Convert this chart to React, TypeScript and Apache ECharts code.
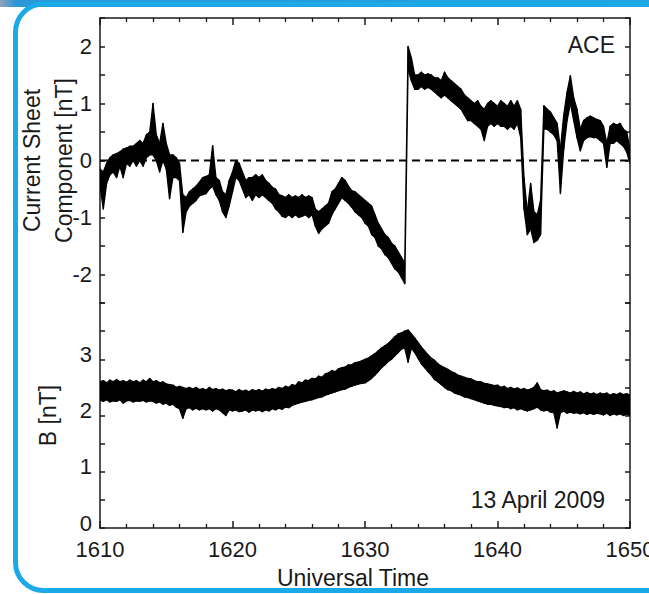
import React, { useEffect, useRef } from "react";
import * as echarts from "echarts";

// sampling grid of the traces (minutes, UT 16:10 -> 16:50)
const startTime = 1610;
const sampleStep = 0.25;

// Current sheet component [nT]: upper / lower edge of the trace at each sample
const csHigh = [
  -0.15, -0.2, -0.05, 0.05,
  0.1, 0.12, 0.15, 0.2,
  0.22, 0.25, 0.25, 0.3,
  0.35, 0.3, 0.45, 0.5,
  1.0, 0.45, 0.3, 0.65,
  0.3, 0.1, 0.1, 0.05,
  -0.05, -0.6, -0.65, -0.55,
  -0.5, -0.45, -0.38, -0.3,
  -0.28, -0.25, 0.26, -0.3,
  -0.35, -0.55, -0.6, -0.35,
  -0.2, 0.0, -0.05, -0.2,
  -0.35, -0.3, -0.3, -0.25,
  -0.3, -0.25, -0.35, -0.4,
  -0.47, -0.5, -0.6, -0.62,
  -0.65, -0.6, -0.65, -0.62,
  -0.65, -0.6, -0.65, -0.62,
  -0.65, -0.85, -0.9, -0.85,
  -0.8, -0.75, -0.55, -0.5,
  -0.4, -0.3, -0.35, -0.45,
  -0.53, -0.55, -0.6, -0.65,
  -0.7, -0.75, -0.8, -0.95,
  -1.1, -1.2, -1.3, -1.35,
  -1.45, -1.5, -1.6, -1.7,
  -1.8, 2.0, 1.8, 1.5,
  1.5, 1.55, 1.5, 1.52,
  1.5, 1.45, 1.45, 1.4,
  1.55, 1.45, 1.4, 1.35,
  1.3, 1.25, 1.15, 1.1,
  1.05, 1.0, 1.05, 0.95,
  0.9, 1.0, 1.05, 1.0,
  0.95, 1.05, 1.0, 0.95,
  1.05, 0.95, 1.05, 0.9,
  -0.3, -0.9, -0.4, -0.9,
  -0.95, -0.7, 0.96, 0.9,
  0.85, 0.75, 0.65, 0.2,
  0.8, 1.2, 1.49, 1.1,
  0.9, 0.55, 0.7, 0.75,
  0.78, 0.75, 0.72, 0.7,
  0.6, 0.3, 0.6, 0.65,
  0.62, 0.65, 0.55, 0.5,
  0.2,
];
const csLow = [
  -0.45, -0.85, -0.4, -0.25,
  -0.2, -0.3, -0.1, -0.3,
  -0.05, -0.1, 0.0, -0.1,
  0.0, -0.1, 0.05, 0.1,
  0.1, 0.0, -0.2, 0.0,
  -0.15, -0.67, -0.3, -0.3,
  -0.35, -1.26, -0.9, -0.8,
  -0.75, -0.7, -0.62, -0.6,
  -0.58, -0.5, -0.45, -0.6,
  -0.7, -0.9, -1.0, -0.8,
  -0.55, -0.3, -0.35, -0.5,
  -0.65, -0.6, -0.7, -0.6,
  -0.65, -0.6, -0.65, -0.7,
  -0.75, -0.85, -0.9, -0.98,
  -1.0, -0.95, -1.0, -0.95,
  -1.0, -0.98, -0.95, -1.0,
  -0.95, -1.15, -1.28, -1.2,
  -1.15, -1.1, -0.95, -0.85,
  -0.75, -0.65, -0.7, -0.75,
  -0.82, -0.9, -0.95, -1.0,
  -1.1, -1.15, -1.3, -1.35,
  -1.5, -1.55, -1.65, -1.7,
  -1.8, -1.9, -1.95, -2.05,
  -2.16, 1.6, 1.4, 1.25,
  1.25, 1.3, 1.25, 1.28,
  1.25, 1.2, 1.15, 1.1,
  1.15, 1.1, 1.05, 1.0,
  0.95, 0.9, 0.8, 0.7,
  0.7, 0.65, 0.6, 0.55,
  0.35, 0.6, 0.65, 0.6,
  0.65, 0.6, 0.6, 0.55,
  0.6, 0.55, 0.65, 0.4,
  -0.85, -1.3, -1.2, -1.44,
  -1.4, -1.3, 0.55, 0.55,
  0.5, 0.45, 0.35, -0.58,
  0.2, 0.7, 1.0, 0.7,
  0.4, 0.17, 0.35, 0.4,
  0.42, 0.4, 0.4, 0.35,
  0.3, -0.12, 0.3, 0.3,
  0.35, 0.3, 0.25, 0.15,
  -0.05,
];

// Magnetic field magnitude B [nT]: upper / lower edge of the trace at each sample
const bHigh = [
  2.6, 2.62, 2.58, 2.63,
  2.6, 2.64, 2.6, 2.62,
  2.59, 2.63, 2.6, 2.62,
  2.58, 2.63, 2.6, 2.66,
  2.6, 2.62, 2.58, 2.6,
  2.56, 2.55, 2.54, 2.5,
  2.52, 2.5, 2.48, 2.5,
  2.47, 2.5, 2.46, 2.48,
  2.45, 2.5, 2.46, 2.48,
  2.45, 2.47, 2.44, 2.46,
  2.45, 2.42, 2.46, 2.43,
  2.45, 2.42, 2.46, 2.44,
  2.46, 2.43, 2.47, 2.45,
  2.48, 2.46, 2.5, 2.48,
  2.52, 2.5, 2.55, 2.53,
  2.6, 2.58, 2.63, 2.62,
  2.66, 2.65, 2.7, 2.68,
  2.74, 2.76, 2.8, 2.78,
  2.83, 2.85, 2.86, 2.9,
  2.9, 2.94, 2.95, 2.97,
  3.0, 3.02, 3.06, 3.1,
  3.15, 3.2, 3.24, 3.28,
  3.34, 3.4, 3.45, 3.47,
  3.5, 3.52, 3.45, 3.38,
  3.3, 3.22, 3.15, 3.08,
  3.02, 2.98, 2.92, 2.88,
  2.85, 2.82, 2.78, 2.76,
  2.72, 2.7, 2.68, 2.66,
  2.65, 2.62, 2.6, 2.6,
  2.57, 2.56, 2.55, 2.53,
  2.54, 2.5, 2.52, 2.48,
  2.5, 2.47, 2.49, 2.46,
  2.48, 2.45, 2.47, 2.5,
  2.58, 2.46, 2.44, 2.45,
  2.42, 2.44, 2.4, 2.42,
  2.44, 2.42, 2.4, 2.43,
  2.4, 2.42, 2.38, 2.41,
  2.38, 2.4, 2.37, 2.4,
  2.38, 2.4, 2.36, 2.39,
  2.37, 2.4, 2.37, 2.39,
  2.36,
];
const bLow = [
  2.27, 2.25, 2.28, 2.24,
  2.26, 2.25, 2.28, 2.22,
  2.26, 2.27, 2.24, 2.26,
  2.25, 2.27, 2.24, 2.26,
  2.25, 2.22, 2.24, 2.2,
  2.22, 2.18, 2.2, 2.15,
  2.12, 1.95, 2.12, 2.14,
  2.1, 2.13, 2.1, 2.12,
  2.1, 2.12, 2.08, 2.12,
  2.1, 2.05, 2.0, 2.1,
  2.08, 2.1, 2.07, 2.08,
  2.1, 2.06, 2.1, 2.08,
  2.1, 2.07, 2.1, 2.08,
  2.12, 2.1, 2.13, 2.11,
  2.15, 2.14, 2.18, 2.2,
  2.22, 2.24, 2.25, 2.27,
  2.28, 2.3, 2.32, 2.33,
  2.36, 2.38, 2.4, 2.42,
  2.44, 2.46, 2.47, 2.5,
  2.52, 2.54, 2.56, 2.57,
  2.58, 2.62, 2.66, 2.72,
  2.78, 2.85, 2.9, 2.96,
  3.0, 3.06, 3.12, 3.18,
  3.2, 2.95, 3.2, 3.12,
  3.02, 2.92, 2.85, 2.78,
  2.72, 2.64, 2.6, 2.55,
  2.5, 2.46, 2.44, 2.4,
  2.38, 2.36, 2.33, 2.32,
  2.3, 2.28, 2.26, 2.24,
  2.22, 2.2, 2.2, 2.18,
  2.17, 2.16, 2.14, 2.15,
  2.12, 2.14, 2.1, 2.12,
  2.1, 2.08, 2.1, 2.12,
  2.15, 2.1, 2.08, 2.1,
  2.06, 2.05, 1.78, 2.05,
  2.08, 2.04, 2.06, 2.04,
  2.05, 2.03, 2.05, 2.02,
  2.04, 2.02, 2.04, 2.03,
  2.01, 2.04, 2.0, 2.03,
  2.01, 2.03, 2.0, 2.02,
  2.0,
];

const timeMin = 1610;
const timeMax = 1650;
const csMin = -2.5;
const csMax = 2.5;
const bMin = 0;
const bMax = 4;
const zeroLevel = 0;
const spacecraft = "ACE";
const dateLabel = "13 April 2009";

const FONT = "'Liberation Sans', Arial, Helvetica, sans-serif";
const INK = "#1a1a1a";

function buildSegments(high: number[], low: number[]) {
  const rows: number[][] = [];
  for (let i = 0; i < high.length - 1; i++) {
    const t0 = startTime + i * sampleStep;
    const t1 = startTime + (i + 1) * sampleStep;
    rows.push([t0, high[i], low[i], t1, high[i + 1], low[i + 1]]);
  }
  return rows;
}

const renderBand = (_params: any, api: any) => {
  const a = api.coord([api.value(0), api.value(1)]);
  const b = api.coord([api.value(3), api.value(4)]);
  const c = api.coord([api.value(3), api.value(5)]);
  const d = api.coord([api.value(0), api.value(2)]);
  return {
    type: "polygon",
    shape: { points: [a, b, c, d] },
    style: { fill: "#000", stroke: "#000", lineWidth: 1.3, lineJoin: "round" },
  };
};

const axisLineStyle = { color: INK, width: 1.5 };

function xAxisCfg(gridIndex: number, position: string, showLabels: boolean) {
  return {
    gridIndex,
    type: "value",
    position,
    min: timeMin,
    max: timeMax,
    interval: 10,
    axisLine: { show: true, onZero: false, lineStyle: axisLineStyle },
    axisTick: { show: true, inside: true, length: 7, lineStyle: { color: INK, width: 1.5 } },
    minorTick: { show: true, splitNumber: 5, length: 4, lineStyle: { color: INK, width: 1.3 } },
    splitLine: { show: false },
    minorSplitLine: { show: false },
    axisLabel: {
      show: showLabels,
      fontSize: 22,
      fontFamily: FONT,
      color: INK,
      margin: 10,
      hideOverlap: false,
      formatter: (v: number) => String(v),
    },
  };
}

function yAxisCfg(
  gridIndex: number,
  position: string,
  min: number,
  max: number,
  showLabels: boolean,
  hideTop: boolean,
  raised: boolean
) {
  const label: any = {
    show: showLabels,
    fontSize: 22,
    fontFamily: FONT,
    color: INK,
    margin: 8,
    formatter: (v: number) => {
      const r = Math.round(v);
      if (Math.abs(v - r) > 1e-6) return "";
      if (hideTop && r === max) return "";
      if (Math.abs(r) > 2 && min < 0) return "";
      return r < 0 ? "-" + Math.abs(r) : String(r);
    },
  };
  if (raised) {
    label.verticalAlign = "bottom";
    label.lineHeight = 10;
  }
  return {
    gridIndex,
    type: "value",
    position,
    min,
    max,
    interval: 0.5,
    axisLine: { show: true, onZero: false, lineStyle: axisLineStyle },
    axisTick: { show: true, inside: true, length: 5, lineStyle: { color: INK, width: 1.5 } },
    splitLine: { show: false },
    axisLabel: label,
  };
}

export default function App() {
  const ref = useRef<HTMLDivElement>(null);

  useEffect(() => {
    if (!ref.current) return;
    const chart = echarts.init(ref.current, undefined, { renderer: "svg" });

    const option: any = {
      animation: false,
      backgroundColor: "#ffffff",
      grid: [
        { left: 100, top: 18, width: 530, height: 285, show: false, containLabel: false, outerBoundsMode: "none" },
        { left: 100, top: 303, width: 530, height: 225, show: false, containLabel: false, outerBoundsMode: "none" },
      ],
      xAxis: [
        xAxisCfg(0, "top", false),
        {
          ...xAxisCfg(1, "bottom", true),
          name: "Universal Time",
          nameLocation: "middle",
          nameGap: 38,
          nameMoveOverlap: false,
          nameTextStyle: {
            fontSize: 23,
            fontFamily: FONT,
            color: INK,
            padding: [0, 24, 0, 0],
          },
        },
      ],
      yAxis: [
        {
          ...yAxisCfg(0, "left", csMin, csMax, true, false, false),
          name: "Current Sheet\nComponent [nT]",
          nameLocation: "middle",
          nameRotate: 90,
          nameGap: 20,
          nameMoveOverlap: false,
          nameTextStyle: { fontSize: 23, fontFamily: FONT, color: INK, lineHeight: 32 },
        },
        yAxisCfg(0, "right", csMin, csMax, false, false, false),
        {
          ...yAxisCfg(1, "left", bMin, bMax, true, true, true),
          name: "B [nT]",
          nameLocation: "middle",
          nameRotate: 90,
          nameGap: 39,
          nameMoveOverlap: false,
          nameTextStyle: { fontSize: 23, fontFamily: FONT, color: INK, lineHeight: 26 },
        },
        yAxisCfg(1, "right", bMin, bMax, false, false, false),
      ],
      series: [
        {
          type: "line",
          xAxisIndex: 0,
          yAxisIndex: 0,
          data: [
            [timeMin, zeroLevel],
            [timeMax, zeroLevel],
          ],
          symbol: "none",
          silent: true,
          lineStyle: { color: "#000", width: 2, type: [8, 5] },
          z: 1,
        },
        {
          type: "custom",
          xAxisIndex: 0,
          yAxisIndex: 0,
          clip: true,
          data: buildSegments(csHigh, csLow),
          encode: { x: [0, 3], y: [1, 2, 4, 5] },
          renderItem: renderBand,
          silent: true,
          z: 2,
        },
        {
          type: "custom",
          xAxisIndex: 1,
          yAxisIndex: 2,
          clip: true,
          data: buildSegments(bHigh, bLow),
          encode: { x: [0, 3], y: [1, 2, 4, 5] },
          renderItem: renderBand,
          silent: true,
          z: 2,
        },
      ],
      graphic: [
        {
          type: "rect",
          shape: { x: 0, y: 0, width: 649, height: 7 },
          style: {
            fill: new echarts.graphic.LinearGradient(0, 0, 1, 0, [
              { offset: 0, color: "#8fa3bb" },
              { offset: 0.025, color: "#2b97d6" },
              { offset: 1, color: "#22a2e2" },
            ]),
          },
          silent: true,
        },
        {
          type: "rect",
          shape: { x: 15.5, y: 4, width: 700, height: 586.5, r: 28 },
          style: { fill: "none", stroke: "#1ba9e8", lineWidth: 5 },
          silent: true,
        },
        {
          type: "text",
          x: 615,
          y: 45,
          style: {
            text: spacecraft,
            fontSize: 23,
            fontFamily: FONT,
            fill: INK,
            align: "right",
            verticalAlign: "middle",
          },
          silent: true,
        },
        {
          type: "text",
          x: 605,
          y: 500,
          style: {
            text: dateLabel,
            fontSize: 23,
            fontFamily: FONT,
            fill: INK,
            align: "right",
            verticalAlign: "middle",
          },
          silent: true,
        },
      ],
    };

    chart.setOption(option);
    return () => chart.dispose();
  }, []);

  return (
    <div
      ref={ref}
      style={{ position: "absolute", left: 0, top: 0, width: 649, height: 594, background: "#fff" }}
    />
  );
}
